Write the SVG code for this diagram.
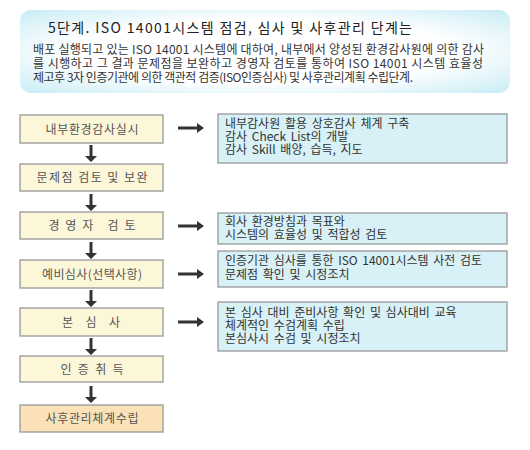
<svg xmlns="http://www.w3.org/2000/svg" width="530" height="450" viewBox="0 0 530 450">
<style>
text{font-family:"Noto Sans CJK KR","Liberation Sans",sans-serif;}
.hd{font-size:14px;fill:#222;}
.bd{font-size:12px;fill:#333;}
.lb{fill:#fcf7d9;stroke:#999;stroke-width:1.3;}
.lb2{fill:#fae1b8;stroke:#999;stroke-width:1.3;}
.lt{font-size:12px;fill:#555;text-anchor:middle;}
.rb{fill:#d8f1f6;stroke:#999;stroke-width:1.3;}
.rt{font-size:12px;fill:#333;word-spacing:2px;}
.ar{stroke:#333;stroke-width:3;fill:none;}
.ah{fill:#333;}
</style>
<defs>
<radialGradient id="hg" cx="0.5" cy="0.5" r="0.7">
<stop offset="0.55" stop-color="#ffffff"/>
<stop offset="1" stop-color="#c9ecf5"/>
</radialGradient>
</defs>
<g id="header">
<rect x="20" y="10" width="490" height="83" rx="11" fill="url(#hg)"/>
<text class="hd" x="48" y="33" textLength="364" lengthAdjust="spacing">5단계. ISO 14001시스템 점검, 심사 및 사후관리 단계는</text>
<text class="bd" x="33" y="54" textLength="451" lengthAdjust="spacing">배포 실행되고 있는 ISO 14001 시스템에 대하여, 내부에서 양성된 환경감사원에 의한 감사</text>
<text class="bd" x="33" y="68" textLength="450" lengthAdjust="spacing">를 시행하고 그 결과 문제점을 보완하고 경영자 검토를 통하여 ISO 14001 시스템 효율성</text>
<text class="bd" x="33" y="82" textLength="380" lengthAdjust="spacing">제고후 3자 인증기관에 의한 객관적 검증(ISO인증심사) 및 사후관리계획 수립단계.</text>
</g>
<g id="n1"><rect class="lb" x="20" y="115" width="143" height="28"/><text class="lt" x="92" y="133.5" textLength="93" lengthAdjust="spacing">내부환경감사실시</text></g>
<g id="n2"><rect class="lb" x="20" y="164" width="143" height="27"/><text class="lt" x="92" y="182" textLength="111" lengthAdjust="spacing">문제점 검토 및 보완</text></g>
<g id="n3"><rect class="lb" x="20" y="212" width="143" height="27"/><text class="lt" x="92" y="230" textLength="87" lengthAdjust="spacing">경영자 검토</text></g>
<g id="n4"><rect class="lb" x="20" y="260" width="143" height="28"/><text class="lt" x="92" y="278.5" textLength="100" lengthAdjust="spacing">예비심사(선택사항)</text></g>
<g id="n5"><rect class="lb" x="20" y="308" width="143" height="28"/><text class="lt" x="91" y="326.5" textLength="58" lengthAdjust="spacing">본심사</text></g>
<g id="n6"><rect class="lb" x="20" y="356" width="143" height="26"/><text class="lt" x="92" y="373.5" textLength="63" lengthAdjust="spacing">인증취득</text></g>
<g id="n7"><rect class="lb2" x="20" y="405" width="143" height="27"/><text class="lt" x="92" y="423" textLength="93" lengthAdjust="spacing">사후관리체계수립</text></g>
<g id="r1"><rect class="rb" x="218" y="114" width="289" height="49"/>
<text class="rt" x="225" y="128">내부감사원 활용 상호감사 체계 구축</text>
<text class="rt" x="225" y="141">감사 Check List의 개발</text>
<text class="rt" x="225" y="154">감사 Skill 배양,  습득, 지도</text></g>
<g id="r2"><rect class="rb" x="218" y="213" width="289" height="31"/>
<text class="rt" x="225" y="226">회사 환경방침과 목표와</text>
<text class="rt" x="225" y="239">시스템의 효율성 및 적합성 검토</text></g>
<g id="r3"><rect class="rb" x="218" y="251" width="289" height="36"/>
<text class="rt" x="225" y="265" textLength="257" lengthAdjust="spacingAndGlyphs">인증기관 심사를 통한 ISO 14001시스템 사전 검토</text>
<text class="rt" x="225" y="279">문제점 확인 및 시정조치</text></g>
<g id="r4"><rect class="rb" x="218" y="302" width="289" height="49"/>
<text class="rt" x="225" y="317">본 심사 대비 준비사항 확인 및 심사대비 교육</text>
<text class="rt" x="225" y="330">체계적인 수검계획 수립</text>
<text class="rt" x="225" y="343">본심사시 수검 및 시정조치</text></g>
<g id="connectors">
<g id="down">
<path class="ar" d="M91 145V157M91 194V206M91 242V254M91 290V302M91 338V350M91 386V398"/>
<path class="ah" d="M85 156H97L91 162ZM85 205H97L91 211ZM85 253H97L91 259ZM85 301H97L91 307ZM85 349H97L91 355ZM85 397H97L91 403Z"/>
</g>
<g id="right">
<path class="ar" d="M178 128H198M178 226H198M178 274H198M178 322H198"/>
<path class="ah" d="M197 123V133L204 128ZM197 221V231L204 226ZM197 269V279L204 274ZM197 317V327L204 322Z"/>
</g>
</g>
</svg>
